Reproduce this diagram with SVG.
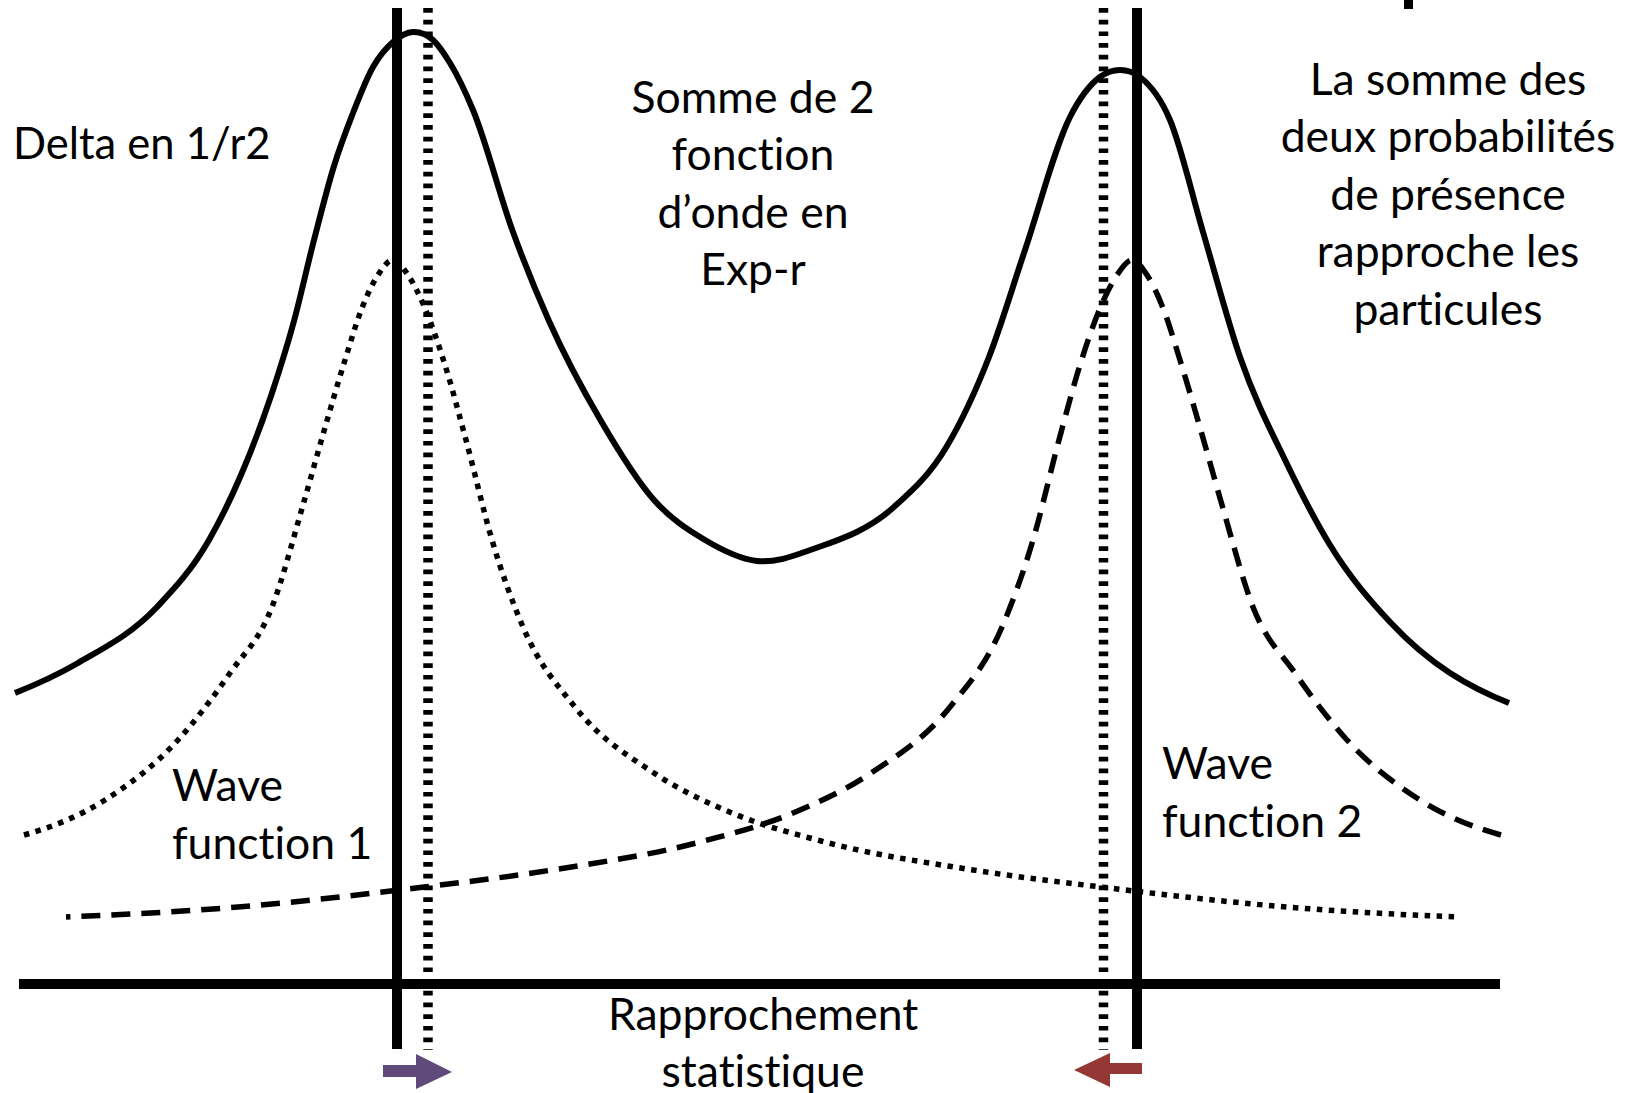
<svg xmlns="http://www.w3.org/2000/svg" width="1636" height="1093" viewBox="0 0 1636 1093">
<style>
.t{font-family:Lato,"Open Sans",sans-serif;font-size:44.5px;fill:#000;font-variant-ligatures:none}
.c{text-anchor:middle}
.solid{fill:none;stroke:#000;stroke-width:6}
.dot{fill:none;stroke:#000;stroke-width:5.5;stroke-dasharray:5.5 6.5}
.dash{fill:none;stroke:#000;stroke-width:5.5;stroke-dasharray:19 11}
.vs{stroke:#000;stroke-width:10}
.vd{stroke:#000;stroke-width:9.5;stroke-dasharray:4.7 7}
</style>
<defs>
<path id="wf" d="M24,835 C51,827.4 78,817.2 105,800 C129.3,784.5 153.7,766.6 178,740 C195.3,721 212.7,698 230,673 C244,652.8 258,642.8 272,607 C282.3,580.6 292.7,540.4 303,505 C310,481 317,455.2 324,431 C331,406.8 338,382.4 345,360 C350.7,341.8 356.3,322.4 362,308 C367.3,294.4 372.7,283.1 378,275 C383,267.4 388,260 393,260 C398,260 403,267.7 408,275 C413.3,282.8 418.7,293.7 424,306 C431,322.2 438,342.7 445,365 C452,387.3 459,414.1 466,440 C474.7,472 483.3,510.8 492,540 C502.3,574.8 512.7,602.9 523,627 C540.3,667.4 557.7,685.2 575,707 C601.3,740.2 627.7,755.3 654,773 C680,790.5 706,802.1 732,813 C761.7,825.5 791.3,833 821,841 C871.7,854.6 922.3,861.9 973,870 C1015.7,876.8 1058.3,881.8 1101,887 C1163,894.6 1225,901.9 1287,907 C1344.3,911.7 1401.7,914.7 1459,917"/>
</defs>
<rect width="1636" height="1093" fill="#fff"/>
<g id="axis"><line class="vs" x1="19" y1="984" x2="1500" y2="984"/></g>
<g id="particle1-lines">
<line class="vs" x1="397" y1="8" x2="397" y2="1049"/>
<line class="vd" x1="428" y1="8" x2="428" y2="1050"/>
</g>
<g id="particle2-lines">
<line class="vd" x1="1103.5" y1="8" x2="1103.5" y2="1050"/>
<line class="vs" x1="1137" y1="8" x2="1137" y2="1049"/>
</g>
<g id="connectors">
<path id="sum-curve" class="solid" d="M15,693 C36,684.6 57,675.2 78,663 C104.3,647.7 130.7,634.9 157,607 C174.3,588.6 191.7,570.3 209,540 C219.7,521.4 230.3,500 241,475 C251.3,450.8 261.7,424.1 272,393 C279.3,370.9 286.7,348 294,321 C300.7,296.5 307.3,265.8 314,240 C320.7,214.2 327.3,187.6 334,166 C340.3,145.5 346.7,129.2 353,113 C359.7,96 366.3,78.8 373,67 C379.7,55.2 386.3,47.8 393,42 C399.7,36.2 406.3,32.3 413,32 C419.7,31.7 426.3,33.9 433,40 C438.7,45.2 444.3,53.7 450,63 C457.7,75.6 465.3,91.5 473,110 C486.3,142.1 499.7,195.4 513,232 C525,265 537,294 549,321 C566.3,359.9 583.7,391.4 601,421 C618.7,451.2 636.3,480 654,500 C671,519.2 688,529.9 705,540 C722.3,550.3 739.7,559.1 757,561 C776.7,563.2 796.3,554.9 816,548 C842,538.8 868,530.3 894,507 C911.7,491.1 929.3,475.9 947,446 C961,422.3 975,393.1 989,357 C1001,326.1 1013,285.6 1025,250 C1040,205.5 1055,146.7 1070,117 C1080,97.2 1090,84.4 1100,77 C1106.7,72 1113.3,70 1120,70 C1126.7,70 1133.3,71.8 1140,77 C1150,84.8 1160,96.3 1170,120 C1181,146 1192,194.7 1203,232 C1215.3,273.8 1227.7,321.3 1240,357 C1255.7,402.3 1271.3,431.5 1287,464 C1301.3,493.7 1315.7,521.6 1330,545 C1350.3,578.2 1370.7,601.2 1391,623 C1430.3,665.2 1469.7,687.3 1509,703"/>
<use id="wave1-curve" href="#wf" class="dot"/>
<use id="wave2-curve" href="#wf" class="dash" transform="translate(1525,0) scale(-1,1)"/>
</g>
<g id="label-delta"><text class="t" x="13" y="159" style="font-size:43.5px">Delta en 1/r2</text></g>
<g id="label-somme" class="t c">
<text x="753" y="113">Somme de 2</text>
<text x="753" y="170">fonction</text>
<text x="753" y="228">d’onde en</text>
<text x="753" y="285">Exp-r</text>
</g>
<g id="label-probabilites" class="t c">
<text x="1448" y="95">La somme des</text>
<text x="1448" y="152">deux probabilités</text>
<text x="1448" y="209.5">de présence</text>
<text x="1448" y="267">rapproche les</text>
<text x="1448" y="324.5">particules</text>
</g>
<g id="label-wave1" class="t">
<text x="172" y="801">Wave</text>
<text x="172" y="859">function 1</text>
</g>
<g id="label-wave2" class="t">
<text x="1162" y="779">Wave</text>
<text x="1162" y="837">function 2</text>
</g>
<g id="label-rapprochement" class="t c">
<text x="763" y="1030">Rapprochement</text>
<text x="763" y="1087">statistique</text>
</g>
<g id="arrow-right"><polygon fill="#604a7b" points="383,1065 416,1065 416,1054 452,1072 416,1089 416,1077 383,1077"/></g>
<g id="arrow-left"><polygon fill="#953735" points="1142,1063 1110,1063 1110,1053 1074,1070 1110,1087 1110,1074 1142,1074"/></g>
<g id="top-mark"><rect x="1404" y="0" width="9" height="9" fill="#000"/></g>
</svg>
